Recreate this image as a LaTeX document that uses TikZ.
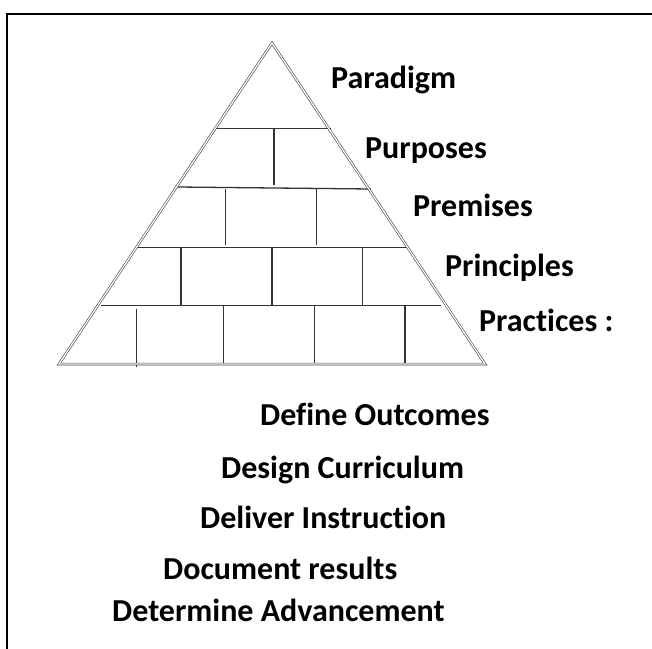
\documentclass[tikz,border=0pt]{standalone}
\usepackage{fontspec}
\setmainfont{Carlito}[Ligatures=NoCommon]
\usepackage{tikz}

\begin{document}
\begin{tikzpicture}[x=1pt,y=-1pt,
	level/.style={font=\bfseries\fontsize{32}{36}\selectfont,anchor=base west,inner sep=0pt},
	brick/.style={draw=black!80,line width=1.3pt},
	pyramid/.style={draw=black!75,line width=0.6pt,double=white,double distance=1.3pt}]
	\useasboundingbox (0,0) rectangle (652,648);
	\draw[line width=2pt] (6.5,660) -- (6.5,14) -- (660,14);
	% rows of bricks
	\draw[brick] (215,128.5) -- (331,128.5);
	\draw[brick] (178,187) -- (371,189);
	\draw[brick] (136,247.5) -- (406,247.5);
	\draw[brick] (101,305.5) -- (441,305.5);
	\draw[brick] (274,128.5) -- (274,185);
	\draw[brick] (225.5,189) -- (225.5,245) (316.5,189) -- (316.5,245);
	\foreach \x in {181,272,362.5} \draw[brick] (\x,247.5) -- (\x,305.5);
	\draw[brick] (136.5,308.5) -- (136.5,366.5);
	\foreach \x in {223.5,314.5,405} \draw[brick] (\x,305.5) -- (\x,364);
	\draw[pyramid] (272,43) -- (485,364) -- (59,364) -- cycle;
	% labels
	\node[level] (paradigm) at (331,88) {Paradigm};
	\node[level] (purposes) at (365,158) {Purposes};
	\node[level] (premises) at (413,216) {Premises};
	\node[level] (principles) at (445,276.5) {Principles};
	\node[level] (practices) at (479,331.5) {Practices :};
	\node[level] (outcomes) at (260,425) {Define Outcomes};
	\node[level] (curriculum) at (221,478) {Design Curriculum};
	\node[level] (instruction) at (200,528) {Deliver Instruction};
	\node[level] (results) at (163,579) {Document results};
	\node[level] (advancement) at (112,621) {Determine Advancement};
\end{tikzpicture}
\end{document}
